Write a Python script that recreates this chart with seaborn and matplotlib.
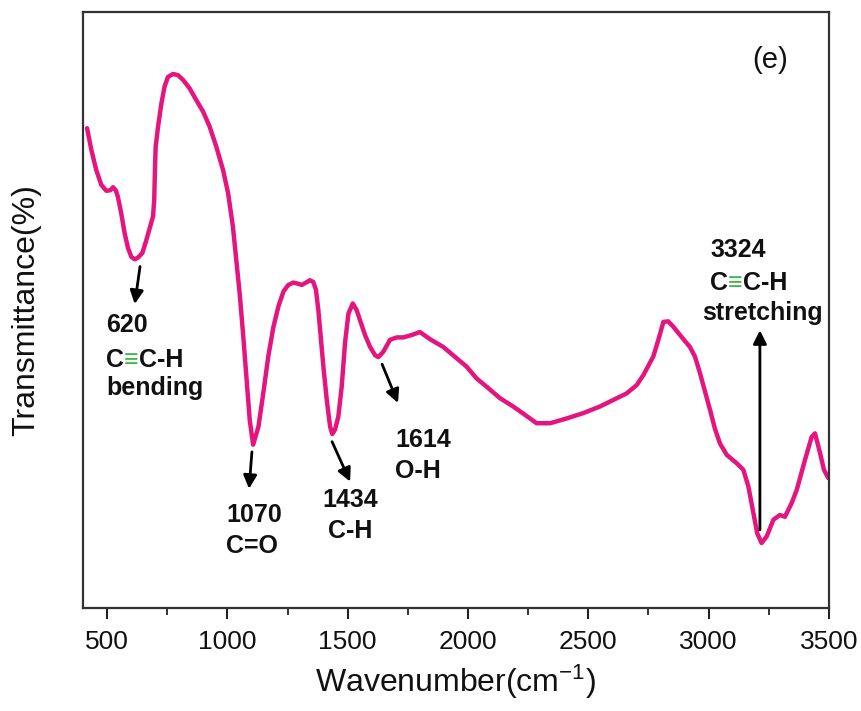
import matplotlib
matplotlib.use("Agg")
import matplotlib.pyplot as plt
import seaborn as sns
import pandas as pd

# FTIR spectrum: wavenumber (cm^-1) and relative transmittance
wavenumber = [417, 435, 455, 476, 497, 514, 525, 536, 545, 559, 573, 587, 601,
              615, 629, 647, 663, 677, 691, 696, 699, 702, 712, 726, 739, 753,
              774, 795, 816, 843, 871, 899, 926, 954, 982, 1003, 1023, 1037,
              1051, 1065, 1079, 1093, 1107, 1129, 1149, 1170, 1191, 1212, 1233,
              1253, 1274, 1295, 1309, 1327, 1343, 1357, 1368, 1378, 1388, 1399,
              1413, 1427, 1436, 1447, 1461, 1475, 1489, 1503, 1521, 1537, 1551,
              1572, 1593, 1614, 1627, 1648, 1676, 1704, 1731, 1766, 1800, 1842,
              1897, 1953, 1994, 2036, 2078, 2133, 2188, 2237, 2285, 2341, 2410,
              2479, 2548, 2604, 2659, 2701, 2729, 2770, 2791, 2812, 2832, 2853,
              2881, 2922, 2943, 2964, 2985, 3006, 3026, 3047, 3075, 3116, 3144,
              3165, 3186, 3202, 3220, 3241, 3269, 3296, 3317, 3345, 3366, 3400,
              3428, 3442, 3463, 3479, 3497]
transmittance = [80.5, 76.8, 73.5, 71.0, 70.0, 70.1, 70.6, 70.1, 69.0, 66.2,
                 62.9, 60.4, 58.9, 58.5, 58.8, 59.6, 61.7, 63.7, 65.7, 68.5,
                 73.5, 77.4, 80.8, 84.7, 87.5, 89.1, 89.6, 89.4, 88.6, 87.2,
                 85.2, 83.3, 80.8, 77.4, 73.5, 69.6, 64.0, 58.4, 52.8, 46.1,
                 38.8, 31.5, 27.4, 30.4, 36.0, 42.2, 47.1, 50.6, 53.1, 54.2,
                 54.6, 54.4, 54.2, 54.6, 55.0, 54.7, 53.4, 50.0, 45.5, 40.5,
                 34.9, 30.4, 29.2, 29.9, 32.1, 37.1, 44.5, 49.4, 51.1, 50.0,
                 48.3, 45.8, 43.8, 42.4, 42.1, 43.0, 45.0, 45.4, 45.4, 45.8,
                 46.3, 45.1, 43.8, 41.9, 40.5, 38.5, 37.1, 35.2, 33.8, 32.4,
                 31.0, 31.0, 31.8, 32.7, 33.8, 34.9, 36.0, 37.4, 39.1, 42.2,
                 45.0, 48.0, 48.1, 47.2, 45.8, 43.8, 42.2, 39.4, 36.3, 33.2,
                 30.1, 27.6, 25.7, 24.3, 23.2, 20.4, 15.9, 12.5, 10.9, 12.0,
                 14.8, 15.6, 15.3, 17.6, 19.8, 24.8, 28.7, 29.3, 26.0, 23.2,
                 21.8]

# Peak annotations
peak_labels = ["620", "1070", "1434", "1614", "3324"]
peak_groups = ["C\u2261C-H bending", "C=O", "C-H", "O-H", "C\u2261C-H stretching"]

x_ticks = [500, 1000, 1500, 2000, 2500, 3000, 3500]
x_minor = [750, 1250, 1750, 2250, 2750, 3250]

LINE_COLOR = "#E5157F"
TRIPLE_COLOR = "#3DB54A"

sns.set_theme(style="white")
plt.rcParams["font.family"] = ["Liberation Sans", "DejaVu Sans"]
plt.rcParams["axes.unicode_minus"] = False
plt.rcParams["mathtext.default"] = "regular"

fig = plt.figure(figsize=(8.61, 7.11), dpi=100)
ax = fig.add_axes([0.0964, 0.1449, 0.8664, 0.8382])

df = pd.DataFrame({"wavenumber": wavenumber, "transmittance": transmittance})
sns.lineplot(data=df, x="wavenumber", y="transmittance", ax=ax,
             color=LINE_COLOR, linewidth=3.2, estimator=None,
             solid_joinstyle="round", solid_capstyle="round")

ax.set_xlim(400, 3500)
ax.set_ylim(0, 100)
ax.set_yticks([])
ax.set_xticks(x_ticks)
ax.set_xticks(x_minor, minor=True)
ax.set_xticklabels([str(t) for t in x_ticks], fontsize=19, color="#111111")
ax.tick_params(axis="x", which="major", direction="out", length=8, width=1.5,
               color="#222222", bottom=True, pad=8)
ax.tick_params(axis="x", which="minor", direction="out", length=5, width=1.3,
               color="#222222", bottom=True)
for s in ax.spines.values():
    s.set_visible(True)
    s.set_color("#333333")
    s.set_linewidth(1.6)

ax.set_xlabel("Wavenumber(cm$^{-1}$)", fontsize=23, color="#111111",
              labelpad=6)
ax.set_ylabel("Transmittance(%)", fontsize=23, color="#111111", labelpad=30)

arrow_kw = dict(arrowstyle="-|>", mutation_scale=20, lw=2.0, color="black",
                shrinkA=0, shrinkB=0)


def arrow(tail, head):
    ax.annotate("", xy=head, xytext=tail, xycoords="data",
                textcoords="data", arrowprops=arrow_kw)


bold = dict(fontsize=18, fontweight="bold", color="#111111",
            family=["Liberation Sans", "DejaVu Sans"])


def triple_bond_text(x, y):
    """Write 'C≡C-H' with a green triple bond sign, left anchored at (x, y)."""
    t1 = ax.text(x, y, "C", ha="left", va="baseline", **bold)
    t2 = ax.annotate("\u2261", xy=(1, 0), xycoords=t1, ha="left",
                     va="bottom", fontsize=18, fontweight="normal",
                     color=TRIPLE_COLOR,
                     family=["Liberation Sans", "DejaVu Sans"])
    ax.annotate("C-H", xy=(1, 0), xycoords=t2, ha="left", va="bottom",
                **bold)


# 620 cm-1 : C≡C-H bending
arrow((637, 57.3), (615, 51.0))
ax.text(496, 46.3, peak_labels[0], ha="left", va="baseline", **bold)
triple_bond_text(496, 40.4)
ax.text(496, 35.7, "bending", ha="left", va="baseline", **bold)

# 1070 cm-1 : C=O
arrow((1102, 26.2), (1090, 20.0))
ax.text(994, 14.4, peak_labels[1], ha="left", va="baseline", **bold)
ax.text(994, 9.2, peak_groups[1], ha="left", va="baseline", **bold)

# 1434 cm-1 : C-H
arrow((1435, 27.9), (1510, 21.2))
ax.text(1509, 16.9, peak_labels[2], ha="center", va="baseline", **bold)
ax.text(1509, 11.7, peak_groups[2], ha="center", va="baseline", **bold)

# 1614 cm-1 : O-H
arrow((1643, 40.9), (1709, 34.4))
ax.text(1697, 27.0, peak_labels[3], ha="left", va="baseline", **bold)
ax.text(1697, 21.8, peak_groups[3], ha="left", va="baseline", **bold)

# 3324 cm-1 : C≡C-H stretching
arrow((3213, 13.1), (3213, 46.6))
ax.text(3006, 58.9, peak_labels[4], ha="left", va="baseline", **bold)
triple_bond_text(3006, 53.4)
ax.text(2972, 48.3, "stretching", ha="left", va="baseline", **bold)

ax.text(3255, 92.0, "(e)", ha="center", va="center", fontsize=21,
        color="#111111", family=["Liberation Sans", "DejaVu Sans"])

fig.savefig("out.png", dpi=100, facecolor="white")
